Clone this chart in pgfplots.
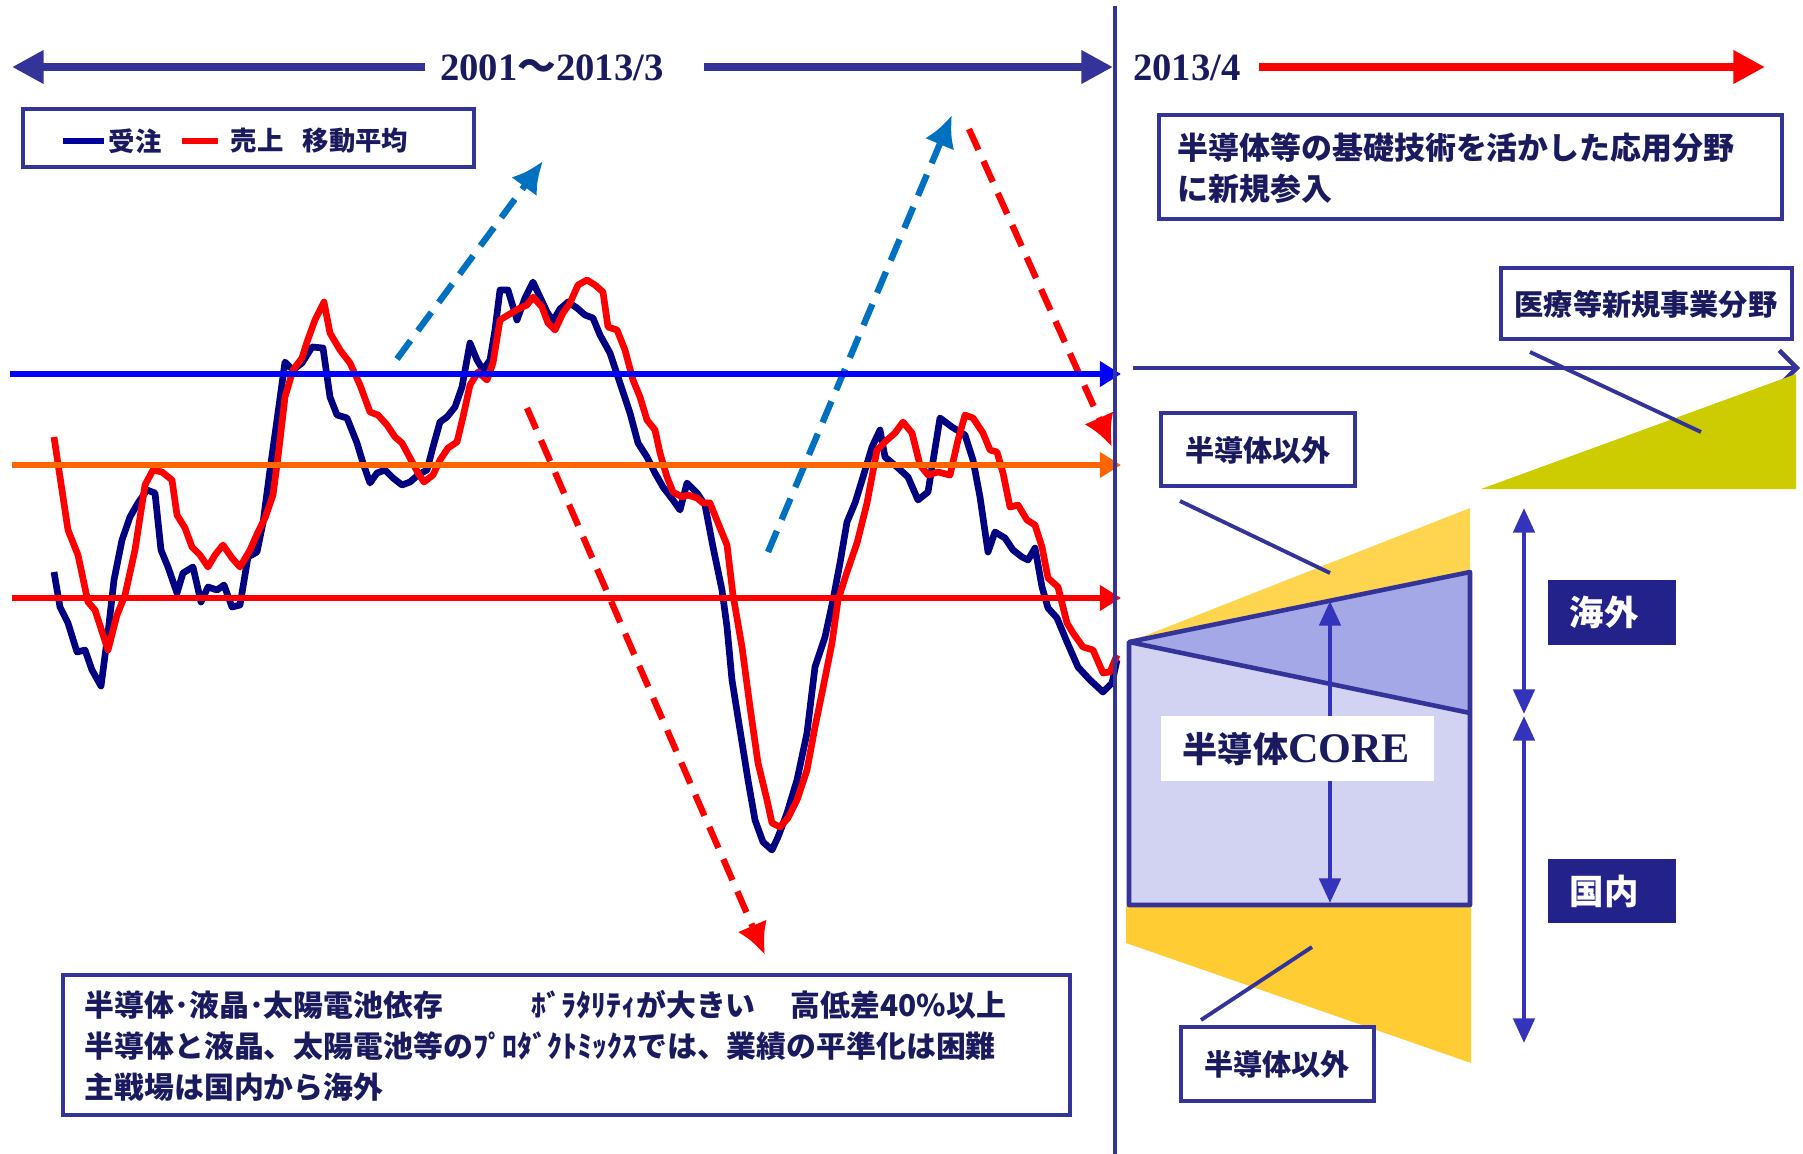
\documentclass[border=0pt]{standalone}
\usepackage{pgfplots}
\pgfplotsset{compat=1.18}
\usetikzlibrary{arrows.meta}
\usepackage{fontspec}
\setmainfont{Liberation Serif}
\newfontfamily\jp{Noto Sans CJK JP}

\definecolor{navy}{HTML}{000080}
\definecolor{txt}{HTML}{1A1A5E}
\definecolor{frame}{HTML}{333399}
\definecolor{dblue}{HTML}{0070C0}
\definecolor{orng}{HTML}{FF6600}
\definecolor{hblue}{HTML}{0000FF}
\definecolor{yelA}{HTML}{FFD54F}
\definecolor{yelB}{HTML}{FFCC33}
\definecolor{olivey}{HTML}{CCCC00}
\definecolor{lav}{HTML}{D2D2F2}
\definecolor{lavB}{HTML}{A5A8E6}
\definecolor{boxbg}{HTML}{22228A}
\definecolor{arrcol}{HTML}{3333BB}

\newcommand\jpf[1]{\jp\bfseries\fontsize{#1}{#1}\selectfont}

\begin{document}
\begin{tikzpicture}
\begin{axis}[
    width=18.03cm, height=11.54cm, scale only axis,
    xmin=0, xmax=1803, ymin=0, ymax=1154, y dir=reverse,
    hide axis, clip=false,
]
% trend arrows (dashed)
\draw[dblue, line width=1.8pt, dash pattern=on 6.5pt off 3.5pt, -{Latex[length=9pt,width=9pt]}] (397,359) -- (543,161);
\draw[dblue, line width=1.8pt, dash pattern=on 6.5pt off 3.5pt, -{Latex[length=9pt,width=9pt]}] (768,552) -- (952,115);
\draw[red, line width=1.8pt, dash pattern=on 6.5pt off 3.5pt, -{Latex[length=9pt,width=9pt]}] (527,408) -- (765,955);
\draw[red, line width=1.8pt, dash pattern=on 6.5pt off 3.5pt, -{Latex[length=9pt,width=9pt]}] (969,129) -- (1112,447);

% 受注 (orders)
\addplot[navy, line width=1.9pt, line join=round] coordinates {
(54,572) (60,607) (68,623) (77,652) (85,650) (92,670) (101,686) (108,633) (114,580) (122,540)
(130,517) (138,503) (147,490) (155,493) (161,550) (168,567) (177,593) (183,573) (193,567) (201,602)
(208,587) (217,590) (224,585) (232,607) (240,605) (248,557) (257,552) (263,523) (270,470) (277,420)
(285,362) (293,370) (302,363) (312,347) (323,348) (330,397) (337,415) (347,418) (357,443) (363,463)
(370,483) (377,473) (385,470) (393,478) (402,485) (410,482) (418,475) (427,470) (433,447) (440,422)
(447,417) (455,407) (462,387) (470,343) (477,360) (483,370) (490,360) (495,330) (500,290) (508,290)
(517,320) (525,298) (533,282) (540,297) (547,312) (553,321) (560,309) (568,302) (577,308) (585,315)
(593,318) (600,335) (610,353) (620,383) (630,413) (638,443) (647,457) (655,473) (663,487) (673,500)
(680,510) (687,483) (697,493) (705,505) (713,547) (722,590) (727,627) (732,680) (740,730) (748,780)
(755,820) (763,842) (772,850) (778,837) (787,813) (797,780) (807,733) (815,667) (825,637) (833,600)
(840,563) (847,522) (855,503) (863,477) (872,447) (880,430) (885,457) (897,467) (908,477) (918,500)
(928,492) (940,418) (952,427) (965,435) (973,460) (980,497) (988,552) (995,532) (1005,538) (1013,550)
(1022,557) (1028,560) (1035,548) (1042,587) (1048,608) (1057,618) (1067,642) (1078,667) (1090,680) (1103,692)
(1112,683) (1117,660)
};
% 売上 (sales)
\addplot[red, line width=1.9pt, line join=round] coordinates {
(54,437) (60,477) (68,530) (78,555) (88,602) (95,610) (108,650) (117,615) (125,595) (135,550)
(145,485) (153,470) (162,472) (172,480) (177,515) (185,528) (192,547) (200,555) (208,567) (215,555)
(223,545) (232,558) (240,567) (250,550) (258,532) (265,518) (273,495) (278,457) (285,397) (293,370)
(302,358) (307,342) (315,320) (324,302) (330,333) (340,350) (350,363) (360,385) (370,412) (378,415)
(387,425) (395,437) (402,443) (410,458) (418,473) (424,482) (433,475) (440,460) (448,448) (457,442)
(463,417) (470,385) (478,372) (487,380) (493,363) (500,320) (508,315) (520,308) (527,305) (533,297)
(542,307) (548,323) (555,330) (563,313) (570,303) (578,285) (587,280) (595,285) (603,292) (608,327)
(617,330) (625,350) (633,380) (640,397) (647,420) (655,430) (660,453) (667,477) (673,492) (682,497)
(688,495) (697,498) (703,503) (710,503) (718,523) (727,545) (733,595) (742,647) (750,707) (758,763)
(767,800) (772,823) (780,827) (788,818) (797,800) (807,770) (815,727) (822,693) (832,643) (838,600)
(847,572) (857,543) (867,503) (877,450) (887,440) (895,433) (903,422) (912,433) (920,465) (928,475)
(938,472) (950,475) (958,440) (965,415) (973,418) (983,433) (990,450) (997,452) (1003,473) (1010,507)
(1018,505) (1027,520) (1035,525) (1042,547) (1048,578) (1058,587) (1067,623) (1073,633) (1083,647) (1093,650)
(1103,673) (1110,672) (1117,655)
};
% reference levels
\addplot[hblue, line width=1.5pt, -{Triangle[length=6pt,width=7pt]}] coordinates {(10,374) (1121,374)};
\addplot[orng, line width=1.5pt, -{Triangle[length=6pt,width=7pt]}] coordinates {(12,465) (1121,465)};
\addplot[red, line width=1.5pt, -{Triangle[length=6pt,width=7pt]}] coordinates {(12,598) (1121,598)};

% divider and period arrows
\draw[frame, line width=1pt] (1115,6) -- (1115,1154);
\draw[frame, line width=2.4pt, {Triangle[length=9pt,width=9pt]}-] (12,67) -- (425,67);
\draw[frame, line width=2.4pt, -{Triangle[length=9pt,width=9pt]}] (704,67) -- (1113,67);
\draw[red, line width=2.4pt, -{Triangle[length=9pt,width=9pt]}] (1259,67) -- (1765,67);
\node[text=txt, font=\bfseries\fontsize{11}{11}\selectfont] at (552,68) {2001{\jp ～}2013/3};
\node[text=txt, font=\bfseries\fontsize{11}{11}\selectfont] at (1187,68) {2013/4};

% legend
\draw[frame, line width=1pt, fill=white] (23,109) rectangle (474,167);
\draw[navy!80!blue, line width=1.8pt] (63,141) -- (104,141);
\draw[red, line width=1.8pt] (182,141) -- (218,141);
\node[anchor=west, inner sep=0, text=txt, font=\jpf{7.5}] at (108,141) {受注};
\node[anchor=west, inner sep=0, text=txt, font=\jpf{7.5}] at (230,141) {売上};
\node[anchor=west, inner sep=0, text=txt, font=\jpf{7.5}] at (302,141) {移動平均};

% right upper box
\draw[frame, line width=1.1pt, fill=white] (1159,115) rectangle (1782,219);
\node[anchor=west, inner sep=0, text=txt, font=\jpf{8.8}] at (1177,148) {半導体等の基礎技術を活かした応用分野};
\node[anchor=west, inner sep=0, text=txt, font=\jpf{8.8}] at (1177,189) {に新規参入};

% new fields
\draw[frame, line width=1.3pt, -{Straight Barb[length=5pt,width=10pt]}] (1133,368) -- (1800,368);
\fill[olivey] (1481,489) -- (1796,374) -- (1796,489) -- cycle;
\draw[frame, line width=1.3pt, fill=white] (1501,268) rectangle (1792,339);
\node[text=txt, font=\jpf{8.3}] at (1646,304) {医療等新規事業分野};
\draw[frame, line width=1.1pt] (1530,352) -- (1701,432);

% core block
\fill[yelA] (1129,642) -- (1470,508) -- (1470,572) -- cycle;
\fill[yelB] (1126,906) -- (1471,906) -- (1471,1063) -- (1126,943) -- cycle;
\fill[lav] (1129,642) -- (1470,713) -- (1470,905) -- (1129,905) -- cycle;
\fill[lavB] (1129,642) -- (1470,572) -- (1470,713) -- cycle;
\draw[frame, line width=1.3pt, line join=round] (1129,905) -- (1129,642) -- (1470,572) -- (1470,905) -- cycle;
\draw[frame, line width=1.3pt] (1129,642) -- (1470,713);
\draw[arrcol, line width=1.3pt, {Triangle[length=7pt,width=6pt]}-{Triangle[length=7pt,width=6pt]}] (1330,601) -- (1330,903);
\fill[white] (1161,716) rectangle (1434,781);
\node[anchor=west, inner sep=0, text=txt, font=\jpf{10}] at (1182,749) {半導体{\rmfamily\bfseries\fontsize{12}{12}\selectfont CORE}};

% non-semiconductor boxes
\draw[frame, line width=1.1pt] (1180,501) -- (1330,573);
\draw[frame, line width=1.3pt, fill=white] (1161,413) rectangle (1355,486);
\node[text=txt, font=\jpf{8.3}] at (1258,450) {半導体以外};
\draw[frame, line width=1.1pt] (1201,1020) -- (1312,947);
\draw[frame, line width=1.3pt, fill=white] (1181,1027) rectangle (1374,1101);
\node[text=txt, font=\jpf{8.3}] at (1277,1064) {半導体以外};

% overseas / domestic
\draw[arrcol, line width=1.3pt, {Triangle[length=7pt,width=6pt]}-{Triangle[length=7pt,width=6pt]}] (1524,508) -- (1524,714);
\draw[arrcol, line width=1.3pt, {Triangle[length=7pt,width=6pt]}-{Triangle[length=7pt,width=6pt]}] (1524,716) -- (1524,1043);
\fill[boxbg] (1548,580) rectangle (1676,645);
\node[text=white, font=\jpf{9.8}] at (1604,612) {海外};
\fill[boxbg] (1548,859) rectangle (1676,923);
\node[text=white, font=\jpf{9.8}] at (1604,891) {国内};

% bottom note
\draw[frame, line width=1.1pt] (63,975) rectangle (1070,1115);
\node[anchor=west, inner sep=0, text=txt, font=\jpf{8.5}] at (84,1005) {半導体･液晶･太陽電池依存};
\node[anchor=west, inner sep=0, text=txt, font=\jpf{8.5}] at (531,1005) {ﾎﾞﾗﾀﾘﾃｨが大きい};
\node[anchor=west, inner sep=0, text=txt, font=\jpf{8.5}] at (790,1005) {高低差40\%以上};
\node[anchor=west, inner sep=0, text=txt, font=\jpf{8.5}] at (84,1046) {半導体と液晶、太陽電池等のﾌﾟﾛﾀﾞｸﾄﾐｯｸｽでは、業績の平準化は困難};
\node[anchor=west, inner sep=0, text=txt, font=\jpf{8.5}] at (84,1087) {主戦場は国内から海外};
\end{axis}
\pgfresetboundingbox
\useasboundingbox (0,0) rectangle (18.03cm,11.54cm);
\end{tikzpicture}
\end{document}
